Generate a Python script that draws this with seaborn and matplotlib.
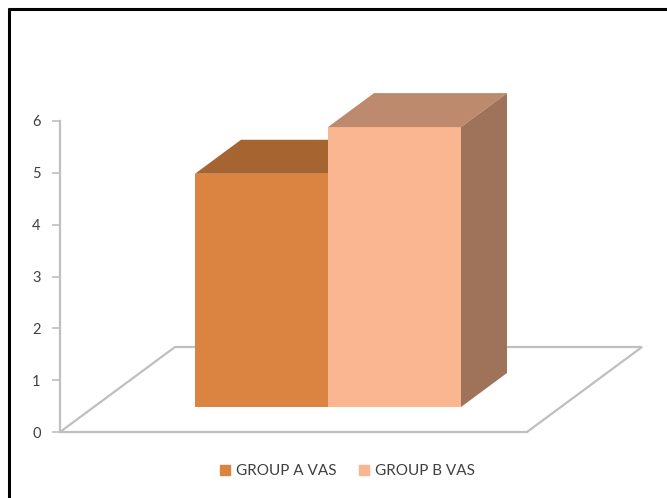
import matplotlib
matplotlib.use("Agg")
import matplotlib.pyplot as plt
import matplotlib.transforms as mtransforms
from matplotlib.patches import Polygon
from matplotlib.lines import Line2D
import seaborn as sns
import pandas as pd

# ---- data ----
category = ["VAS"]
groups = ["GROUP A VAS", "GROUP B VAS"]
values = [4.5, 5.4]
front_colors = ["#DB8340", "#FAB690"]
top_colors = ["#A66530", "#BD8A6D"]
side_colors = ["#8A5428", "#9F735A"]
y_ticks = [0, 1, 2, 3, 4, 5, 6]

df = pd.DataFrame({"cat": category * len(groups), "group": groups, "value": values})

sns.set_theme(style="white")
plt.rcParams["font.family"] = ["Lato", "DejaVu Sans"]

W, H = 667, 498
fig = plt.figure(figsize=(W / 100, H / 100), dpi=100)

# axes in front-plane coordinates: px x 60..640, y 432 (0) .. 121 (6)
left_px, right_px, bot_px, top_px = 60, 640, 432, 121
ax = fig.add_axes([left_px / W, (H - bot_px) / H, (right_px - left_px) / W, (bot_px - top_px) / H])
px_per_unit_x = 332.5
px_per_unit_y = (bot_px - top_px) / 6.0
xl = -(294 - left_px) / px_per_unit_x

# bars, drawn by seaborn
sns.barplot(data=df, x="cat", y="value", hue="group", palette=front_colors,
            ax=ax, width=0.8, saturation=1, legend=False, zorder=3)
bars = list(ax.patches)

ax.set_ylim(0, 6)
ax.set_xlim(xl, xl + (right_px - left_px) / px_per_unit_x)

# floor parallelogram
floor_front_right = xl + (527 - left_px) / px_per_unit_x
fdx = 115 / px_per_unit_x
fdy = 85 / px_per_unit_y
floor = Polygon([(xl, 0), (floor_front_right, 0), (floor_front_right + fdx, fdy), (xl + fdx, fdy)],
                closed=True, facecolor="none", edgecolor="#BFBFBF", lw=1.6, zorder=1, clip_on=False)
ax.add_patch(floor)

# place bars at the bar-front plane (offset into depth) and add 3D faces
bar_tr = mtransforms.offset_copy(ax.transData, fig=fig, x=34, y=25, units="dots")
bdx = 46 / px_per_unit_x
bdy = 34 / px_per_unit_y
for i, p in enumerate(bars):
    p.set_transform(bar_tr)
    p.set_clip_on(False)
    p.set_linewidth(0)
    p.set_zorder(3 + 3 * i)
    x0, w, h = p.get_x(), p.get_width(), p.get_height()
    top = Polygon([(x0, h), (x0 + w, h), (x0 + w + bdx, h + bdy), (x0 + bdx, h + bdy)],
                  closed=True, facecolor=top_colors[i], lw=0, transform=bar_tr,
                  zorder=3 + 3 * i + 1, clip_on=False)
    side = Polygon([(x0 + w, 0), (x0 + w + bdx, bdy), (x0 + w + bdx, h + bdy), (x0 + w, h)],
                   closed=True, facecolor=side_colors[i], lw=0, transform=bar_tr,
                   zorder=3 + 3 * i + 1, clip_on=False)
    ax.add_patch(top)
    ax.add_patch(side)

# axes styling
for s in ["top", "right", "bottom"]:
    ax.spines[s].set_visible(False)
ax.spines["left"].set_color("#BFBFBF")
ax.spines["left"].set_linewidth(1.6)
ax.set_yticks(y_ticks)
ax.set_yticklabels([str(t) for t in y_ticks])
ax.tick_params(axis="y", which="both", left=True, length=6, width=1.2, color="#BFBFBF",
               labelsize=10.5, labelcolor="#404040", pad=8)
ax.set_xticks([])
ax.set_xlabel("")
ax.set_ylabel("")
ax.patch.set_alpha(0)

# legend
handles = [Line2D([0], [0], marker="s", linestyle="none", markersize=7,
                  markerfacecolor=c, markeredgecolor=c) for c in front_colors]
fig.legend(handles, groups, loc="center", bbox_to_anchor=(347 / W, (H - 471) / H),
           ncol=2, frameon=False, fontsize=11, labelcolor="#404040",
           handletextpad=0.3, columnspacing=1.4, handlelength=0.8)

# outer frame (left and top)
fig.add_artist(Line2D([9 / W, 9 / W], [0, (H - 9) / H], color="black", lw=2.2))
fig.add_artist(Line2D([9 / W, 1], [(H - 9) / H, (H - 9) / H], color="black", lw=2.2))

fig.savefig("out.png", dpi=100)
